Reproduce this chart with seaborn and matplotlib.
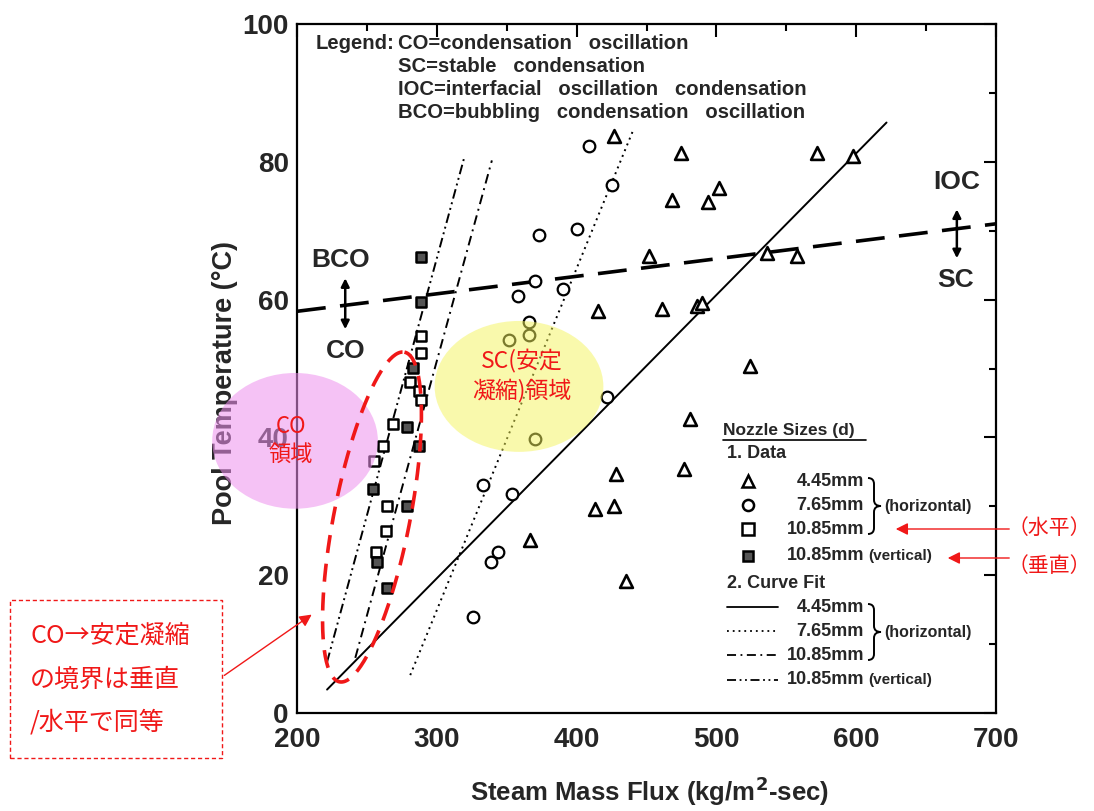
import matplotlib
matplotlib.use('Agg')
import matplotlib.pyplot as plt
import seaborn as sns
import numpy as np
from matplotlib.patches import Ellipse, Rectangle, PathPatch
from matplotlib.path import Path

# ---------------- data ----------------
tri_x = [427, 475, 572, 598, 502, 468, 494, 452, 536, 558, 415, 461, 486, 490, 524, 481, 428, 477, 413, 427, 367, 435]
tri_y = [83.7, 81.3, 81.3, 80.9, 76.2, 74.5, 74.2, 66.3, 66.8, 66.3, 58.3, 58.7, 59.0, 59.5, 50.4, 42.7, 34.7, 35.4, 29.6, 30.0, 25.1, 19.1]

circ_x = [409, 425, 373, 400, 370, 358, 390, 366, 366, 352, 422, 370, 333, 354, 344, 339, 326]
circ_y = [82.3, 76.7, 69.4, 70.3, 62.7, 60.5, 61.5, 56.7, 54.8, 54.1, 45.8, 39.7, 33.1, 31.8, 23.3, 21.9, 14.0]

sqh_x = [289, 289, 280.5, 287.6, 288.4, 269, 261.8, 255.3, 264.7, 264, 256.8]
sqh_y = [54.7, 52.2, 48.1, 46.8, 45.5, 42.0, 38.8, 36.6, 30.0, 26.4, 23.3]

sqv_x = [288.4, 288.4, 283.3, 279, 287.6, 254.6, 279, 257.5, 264.7]
sqv_y = [66.2, 59.6, 50.1, 41.5, 38.8, 32.5, 30.0, 21.9, 18.2]

fit445_x = [221.5, 621.7]
fit445_y = [3.4, 85.7]
fit765_x = [281, 440.7]
fit765_y = [5.5, 84.7]
fit1085h_x = [241.7, 339.4]
fit1085h_y = [8.0, 80.2]
fit1085v_x = [221.5, 320]
fit1085v_y = [7.4, 80.9]
bound_x = [200, 700]
bound_y = [58.3, 71.0]

x_ticks = [200, 300, 400, 500, 600, 700]
y_ticks = [0, 20, 40, 60, 80, 100]

legend_lines = ["CO=condensation   oscillation",
                "SC=stable   condensation",
                "IOC=interfacial   oscillation   condensation",
                "BCO=bubbling   condensation   oscillation"]

# ---------------- figure ----------------
sns.set_theme(style='white')
plt.rcParams['font.family'] = ['Liberation Sans', 'Noto Sans CJK JP', 'DejaVu Sans']
CJK = ['Noto Sans CJK JP', 'DejaVu Sans']
RED = '#F01818'

W, H = 1094, 811
fig = plt.figure(figsize=(W / 100, H / 100), dpi=100)
L, R, T, B = 297, 996, 24, 713
ax = fig.add_axes([L / W, 1 - B / H, (R - L) / W, (B - T) / H])
ax.set_xlim(200, 700)
ax.set_ylim(0, 100)

def fx(px):
    return px / W

def fy(py):
    return 1 - py / H

# data markers
sns.scatterplot(x=tri_x, y=tri_y, marker='^', s=85, color='white', edgecolor='black', linewidth=1.9, ax=ax, zorder=4)
sns.scatterplot(x=circ_x, y=circ_y, marker='o', s=70, color='white', edgecolor='black', linewidth=1.6, ax=ax, zorder=4)
sns.scatterplot(x=sqh_x, y=sqh_y, marker='s', s=55, color='white', edgecolor='black', linewidth=1.8, ax=ax, zorder=4)
sns.scatterplot(x=sqv_x, y=sqv_y, marker='s', s=55, color='#555555', edgecolor='black', linewidth=1.8, ax=ax, zorder=4)

# curve fits
sns.lineplot(x=fit445_x, y=fit445_y, color='black', lw=1.4, ax=ax, sort=False, estimator=None, zorder=3)
sns.lineplot(x=fit765_x, y=fit765_y, color='black', lw=1.4, linestyle=(0, (1, 2.2)), ax=ax, sort=False, estimator=None, zorder=3)
sns.lineplot(x=fit1085h_x, y=fit1085h_y, color='black', lw=1.4, linestyle=(0, (5, 2.5, 1, 2.5)), ax=ax, sort=False, estimator=None, zorder=3)
sns.lineplot(x=fit1085v_x, y=fit1085v_y, color='black', lw=1.4, linestyle=(0, (5, 2, 1, 2, 1, 2)), ax=ax, sort=False, estimator=None, zorder=3)
sns.lineplot(x=bound_x, y=bound_y, color='black', lw=2.6, linestyle=(0, (8, 4)), ax=ax, sort=False, estimator=None, zorder=3)

# axes styling
for s in ax.spines.values():
    s.set_linewidth(1.6)
    s.set_color('black')
ax.set_xticks(x_ticks)
ax.set_yticks(y_ticks)
ax.set_xticks(np.arange(250, 700, 100), minor=True)
ax.set_yticks(np.arange(10, 100, 20), minor=True)
ax.tick_params(which='both', direction='in', top=True, right=True, color='black', width=1.5)
ax.tick_params(which='major', length=9, labelsize=20)
ax.tick_params(axis='x', which='major', pad=10)
ax.tick_params(axis='y', which='major', pad=6)
ax.tick_params(which='minor', length=5)
for lab in ax.get_xticklabels() + ax.get_yticklabels():
    lab.set_fontweight('bold')
ax.set_xlabel('Steam Mass Flux (kg/m$^\\mathbf{2}$-sec)', fontsize=18.5, fontweight='bold')
ax.set_ylabel('Pool Temperature (°C)', fontsize=19.5, fontweight='bold')
ax.xaxis.set_label_coords((650 - L) / (R - L), (B - 775) / (B - T))
ax.yaxis.set_label_coords((238 - L) / (R - L), (B - 383) / (B - T))
ax.grid(False)

# Top-left legend text
ax.text(0.027, 0.972, 'Legend:', transform=ax.transAxes, fontsize=14.6, fontweight='bold', va='center', ha='left')
for i, t in enumerate(legend_lines):
    ax.text(0.145, 0.972 - i * 0.0335, t, transform=ax.transAxes, fontsize=14.6, fontweight='bold', va='center', ha='left')

# regime labels
ax.text(231, 65.8, 'BCO', fontsize=19, fontweight='bold', ha='center', va='center')
ax.text(234.5, 52.6, 'CO', fontsize=19, fontweight='bold', ha='center', va='center')
ax.annotate('', xy=(234.5, 55.3), xytext=(234.5, 63.5),
            arrowprops=dict(arrowstyle='<|-|>', color='black', lw=1.8, mutation_scale=12))
ax.text(672, 77.0, 'IOC', fontsize=19, fontweight='bold', ha='center', va='center')
ax.text(671, 62.9, 'SC', fontsize=19, fontweight='bold', ha='center', va='center')
ax.annotate('', xy=(672, 65.6), xytext=(672, 73.5),
            arrowprops=dict(arrowstyle='<|-|>', color='black', lw=1.8, mutation_scale=12))

# Nozzle legend
def axp(px, py):
    return (px - L) / (R - L), (B - py) / (B - T)

tr = ax.transAxes
fs = 13
x0, y0 = axp(723, 430)
ax.text(x0, y0, 'Nozzle Sizes (d)', transform=tr, fontsize=12.5, fontweight='bold', va='center', ha='left')
ax.plot([x0, axp(866, 0)[0]], [axp(0, 440)[1]] * 2, transform=tr, color='black', lw=1.2)
ax.text(*axp(727, 453), '1. Data', transform=tr, fontsize=fs, fontweight='bold', va='center')
rows = [(481, '^', 'white', '4.45mm'), (505, 'o', 'white', '7.65mm'), (529, 's', 'white', '10.85mm')]
for py, m, fc, lab in rows:
    mx, my = axp(748, py)
    ax.plot([mx], [my], marker=m, ms=8, mfc=fc, mec='black', mew=1.8, transform=tr, ls='none')
    ax.text(*axp(864, py), lab, transform=tr, fontsize=fs, fontweight='bold', va='center', ha='right')
mx, my = axp(748, 556)
ax.plot([mx], [my], marker='s', ms=7.5, mfc='#555555', mec='black', mew=1.8, transform=tr, ls='none')
ax.text(*axp(864, 556), '10.85mm', transform=tr, fontsize=fs, fontweight='bold', va='center', ha='right')
ax.text(*axp(868, 556), '(vertical)', transform=tr, fontsize=11, fontweight='bold', va='center', ha='left')
ax.text(*axp(727, 583), '2. Curve Fit', transform=tr, fontsize=fs, fontweight='bold', va='center')
styles = [(607, '-', '4.45mm'), (631, (0, (1, 2.2)), '7.65mm'), (655, (0, (5, 2.5, 1, 2.5)), '10.85mm'),
          (680, (0, (5, 2, 1, 2, 1, 2)), '10.85mm')]
for py, ls, lab in styles:
    xa, ya = axp(727, py)
    xb, _ = axp(778, py)
    ax.plot([xa, xb], [ya, ya], transform=tr, color='black', lw=1.3, ls=ls)
    ax.text(*axp(864, py), lab, transform=tr, fontsize=fs, fontweight='bold', va='center', ha='right')
ax.text(*axp(868, 680), '(vertical)', transform=tr, fontsize=11, fontweight='bold', va='center', ha='left')


def brace(ymid, half):
    x_a, x_b, x_c = 868, 874, 881
    pts = [(x_a, ymid - half), (x_b, ymid - half), (x_b, ymid - half + 6),
           (x_b, ymid - 6), (x_b, ymid), (x_c, ymid),
           (x_b, ymid), (x_b, ymid + 6),
           (x_b, ymid + half - 6), (x_b, ymid + half), (x_a, ymid + half)]
    codes = [Path.MOVETO, Path.CURVE3, Path.CURVE3, Path.LINETO, Path.CURVE3, Path.CURVE3,
             Path.CURVE3, Path.CURVE3, Path.LINETO, Path.CURVE3, Path.CURVE3]
    verts = [axp(*p) for p in pts]
    ax.add_patch(PathPatch(Path(verts, codes), transform=tr, fill=False, edgecolor='black', lw=1.4))


for py in (506, 632):
    brace(py, 28)
    ax.text(*axp(884, py), '(horizontal)', transform=tr, fontsize=11.5, fontweight='bold', va='center', ha='left')

# coloured highlight ellipses (overlay)
ax.add_patch(Ellipse((198.6, 39.5), 118.5, 19.7, facecolor='#EE90EE', alpha=0.55, edgecolor='none',
                     zorder=6, clip_on=False))
ax.add_patch(Ellipse((358.8, 47.4), 120.7, 19.0, facecolor='#F4F45A', alpha=0.5, edgecolor='none',
                     zorder=6, clip_on=False))
ax.text(195.5, 39.6, 'CO\n領域', color=RED, fontsize=16, ha='center', va='center', family=CJK,
        linespacing=1.25, zorder=7)
ax.text(360.5, 48.9, 'SC(安定\n凝縮)領域', color=RED, fontsize=16.5, ha='center', va='center', family=CJK,
        linespacing=1.3, zorder=7)

# red dashed tilted ellipse around the square data (pixel-space shape)
sx, sy = (R - L) / 500.0, (B - T) / 100.0
t = np.linspace(0, 2 * np.pi, 200)
u = np.array([65, 330]) / np.hypot(65, 330)
v = np.array([u[1], -u[0]])
a, b = 168, 38
px = a * np.cos(t) * u[0] + b * np.sin(t) * v[0]
py = a * np.cos(t) * u[1] + b * np.sin(t) * v[1]
cx, cy = 200 + (372 - L) / sx, (B - 517) / sy
ax.plot(cx + px / sx, cy + py / sy, color=RED, lw=2.6, ls=(0, (5, 3)), zorder=8, clip_on=False)

# lower-left annotation box
fig.patches.append(Rectangle((fx(10), fy(758)), fx(222) - fx(10), fy(600) - fy(758), transform=fig.transFigure,
                             fill=False, edgecolor=RED, lw=1.0, ls=(0, (3, 2))))
for py_, txt in zip([636, 680, 723], ['CO→安定凝縮', 'の境界は垂直', '/水平で同等']):
    fig.text(fx(30), fy(py_), txt, color=RED, fontsize=18, family=CJK, va='center', ha='left')
ax.annotate('', xy=(314, H - 613), xycoords='figure pixels', xytext=(222, H - 677), textcoords='figure pixels',
            arrowprops=dict(arrowstyle='-|>', color=RED, lw=1.0, mutation_scale=18), annotation_clip=False)

# right red arrows
for y_arrow, x_head, y_txt, txt in [(529, 893, 528, '（水平）'), (558, 945, 566, '（垂直）')]:
    ax.annotate('', xy=(x_head, H - y_arrow), xycoords='figure pixels', xytext=(1012, H - y_arrow),
                textcoords='figure pixels',
                arrowprops=dict(arrowstyle='-|>', color=RED, lw=1.0, mutation_scale=18), annotation_clip=False)
    fig.text(fx(1008), fy(y_txt), txt, color=RED, fontsize=15, family=CJK, va='center', ha='left')

fig.savefig('out.png', dpi=100, facecolor='white')
